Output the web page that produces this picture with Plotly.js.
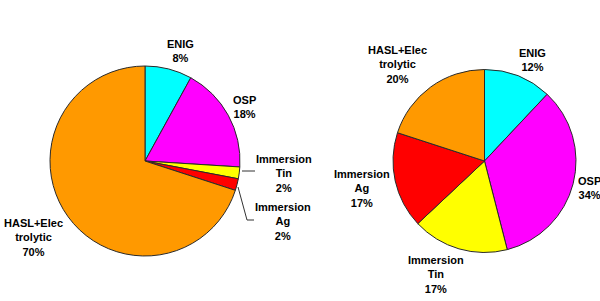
<!DOCTYPE html>
<html>
<head>
<meta charset="utf-8">
<script src="https://cdn.plot.ly/plotly-3.0.1.min.js"></script>
<style>html,body{margin:0;padding:0;background:#fff;}#chart{width:600px;height:301px;}</style>
</head>
<body>
<div id="chart"></div>
<script>
// Data
var categories = ["ENIG", "OSP", "Immersion Tin", "Immersion Ag", "HASL+Electrolytic"];
var labelTexts = ["ENIG", "OSP", "Immersion<br>Tin", "Immersion<br>Ag", "HASL+Elec<br>trolytic"];
var leftValues = [8, 18, 2, 2, 70];
var rightValues = [12, 34, 17, 17, 20];
var sliceColors = ["#00FFFF", "#FF00FF", "#FFFF00", "#FF0000", "#FF9900"];

// pixel helpers (layout only)
var W = 600, H = 301;
function px(x){ return x / W; }
function py(y){ return 1 - y / H; }

function pieTrace(values, cx, cy, r){
  return {
    type: "pie",
    labels: categories,
    values: values,
    sort: false,
    direction: "clockwise",
    rotation: 0,
    marker: {colors: sliceColors, line: {color: "#2a2a2a", width: 1}},
    textinfo: "none",
    textposition: "none",
    hoverinfo: "label+percent",
    domain: {x: [px(cx - r), px(cx + r)], y: [py(cy + r), py(cy - r)]},
    automargin: false
  };
}

var traces = [
  pieTrace(leftValues, 145, 161, 95),
  pieTrace(rightValues, 484.5, 161, 91.5)
];

// label positions (layout)
var leftLabelPos = [[180, 51.5], [244, 107], [283.5, 173], [282.5, 222], [33, 237.5]];
var rightLabelPos = [[532, 59.5], [589, 187.5], [436, 274], [361.5, 188.3], [397, 64.5]];

function pct(values, i){
  var s = values.reduce(function(a,b){return a+b;}, 0);
  return Math.round(values[i] / s * 100) + "%";
}

var annotations = [];
function addLabels(values, pos){
  for (var i = 0; i < categories.length; i++){
    annotations.push({
      xref: "paper", yref: "paper",
      x: px(pos[i][0]), y: py(pos[i][1]),
      xanchor: "center", yanchor: "middle",
      text: "<b>" + labelTexts[i] + "<br>" + pct(values, i) + "</b>",
      showarrow: false,
      align: "center",
      font: {family: "Liberation Sans, Arial, sans-serif", size: 11, color: "#000"}
    });
  }
}
addLabels(leftValues, leftLabelPos);
addLabels(rightValues, rightLabelPos);

var shapes = [
  {type: "path", xref: "paper", yref: "paper",
   path: "M " + px(242) + "," + py(171) + " L " + px(255) + "," + py(171),
   line: {color: "#333", width: 1}},
  {type: "path", xref: "paper", yref: "paper",
   path: "M " + px(238) + "," + py(187) + " L " + px(247) + "," + py(220) + " L " + px(254) + "," + py(220),
   line: {color: "#333", width: 1}}
];

var layout = {
  width: 600, height: 301,
  margin: {l: 0, r: 0, t: 0, b: 0},
  paper_bgcolor: "#fff",
  plot_bgcolor: "#fff",
  showlegend: false,
  annotations: annotations,
  shapes: shapes
};

Plotly.newPlot("chart", traces, layout, {displayModeBar: false, staticPlot: true});
</script>
</body>
</html>
